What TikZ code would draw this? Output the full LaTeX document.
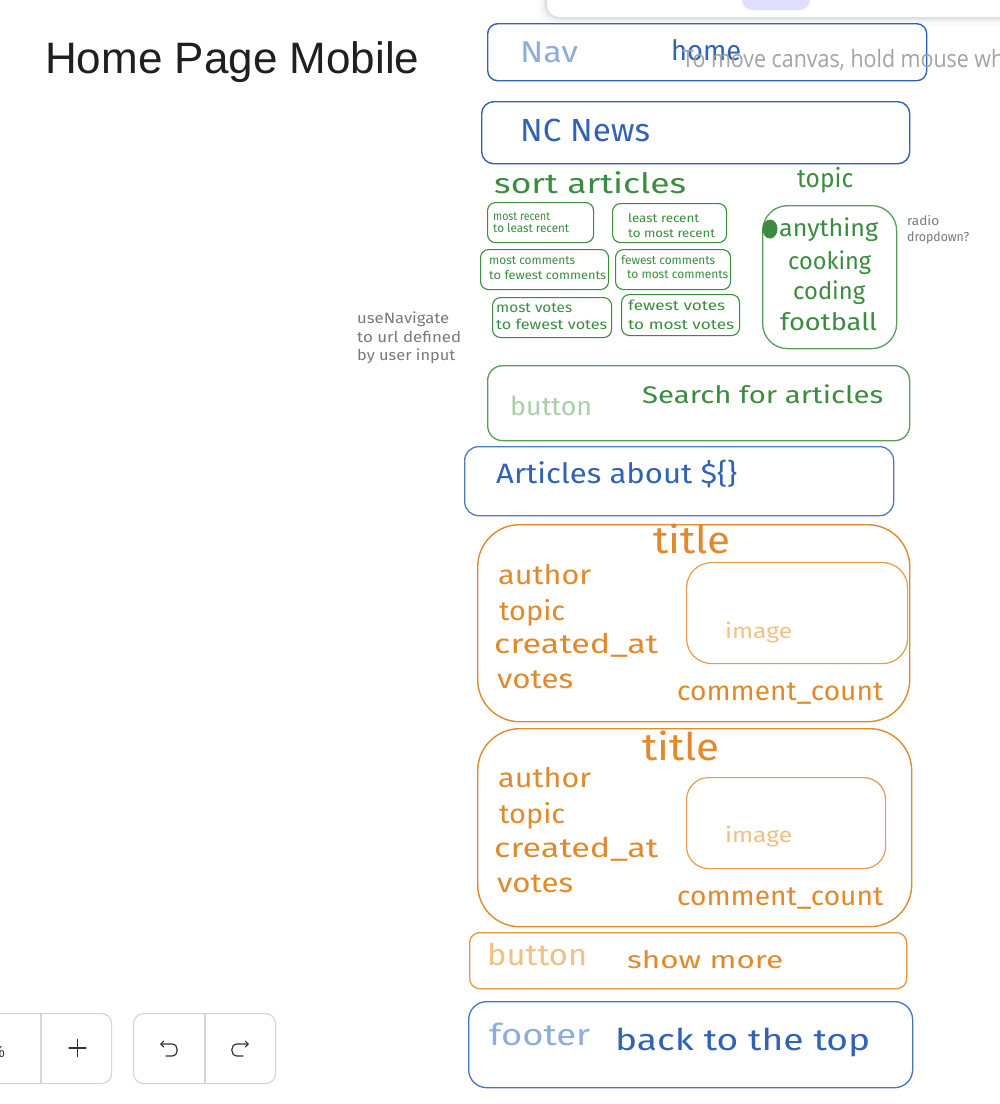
\documentclass[tikz,border=0pt]{standalone}
\usepackage{graphicx}
\usepackage{fontspec}
\setmainfont{Fira Sans}
\newfontfamily\uifont{Liberation Sans}
\newfontfamily\hintfont{Open Sans}
\usetikzlibrary{arrows.meta,shapes.geometric}

\definecolor{inkblue}{HTML}{3163B5}
\definecolor{paleblue}{HTML}{8EADDD}
\definecolor{inkgreen}{HTML}{3B8C3F}
\definecolor{palegreen}{HTML}{A8CFA6}
\definecolor{inkorange}{HTML}{E08A2C}
\definecolor{paleorange}{HTML}{EFC185}
\definecolor{notegray}{HTML}{7A7A7A}
\definecolor{hintgray}{HTML}{A3A3A3}
\definecolor{ctrlgray}{HTML}{D6D6D6}
\definecolor{icongray}{HTML}{333333}
\definecolor{lavender}{HTML}{E0DFFF}

% hand lettering: font size, target width (pt), text
\newcommand{\hw}[3]{\resizebox{#2pt}{\height}{\fontsize{#1}{#1}\selectfont #3}}

\begin{document}
\begin{tikzpicture}[x=1pt,y=-1pt,
  box/.style={draw, rounded corners=#1, line width=1.4pt, anchor=north west, inner sep=0pt},
  box/.default=10pt,
  chip/.style={draw=inkgreen, rounded corners=8pt, line width=1.1pt, anchor=north west, inner sep=0pt},
  txt/.style={anchor=base west, inner sep=0pt},
  ctrlbox/.style={draw=ctrlgray, rounded corners=10pt, line width=1.2pt, anchor=north west, inner sep=0pt},
  icon/.style={draw=icongray, line width=1.2pt, line cap=round, line join=round}]

\clip (0,0) rectangle (1000,1104);
\fill[white] (0,0) rectangle (1000,1104);

% ---- toolbar strip at the top edge
\foreach \s/\o in {8/0.02,5/0.03,3/0.04,1.5/0.05}
  \fill[black, opacity=\o, rounded corners=14pt] (547-\s,-30) rectangle (1040,17+\s);
\fill[white, rounded corners=12pt] (547,-30) rectangle (1040,17);
\fill[lavender, rounded corners=10pt] (742,-15) rectangle (810,10);

% ---- page title
\node[txt, text=black!88] (pagetitle) at (45,73) {\uifont\fontsize{44}{44}\selectfont Home Page Mobile};

% ---- navigation bar and header
\node[box=10pt, draw=inkblue, minimum width=439pt, minimum height=57pt] (navbox) at (487,23) {};
\node[txt, text=paleblue] (navlbl) at (520,62) {\hw{30}{58}{Nav}};
\node[txt, text=inkblue] (homelbl) at (671,60) {\hw{28}{70}{home}};

\node[box=12pt, draw=inkblue, minimum width=428pt, minimum height=62pt] (ncbox) at (481,101) {};
\node[txt, text=inkblue] (nclbl) at (520,141) {\hw{32}{130}{NC News}};

% ---- sorting controls
\node[txt, text=inkgreen] (sortlbl) at (494,193) {\hw{28}{192}{sort articles}};
\node[txt, text=inkgreen] (topiclbl) at (797,187) {\hw{26}{56}{topic}};

\node[chip, minimum width=106pt, minimum height=40pt] (sortA) at (487,202) {};
\node[txt, text=inkgreen] (sortAa) at (493,220) {\hw{12}{57}{most recent}};
\node[txt, text=inkgreen] (sortAb) at (493,232) {\hw{12}{76}{to least recent}};

\node[chip, minimum width=114pt, minimum height=39pt] (sortB) at (612,203) {};
\node[txt, text=inkgreen] (sortBa) at (628,222) {\hw{12}{71}{least recent}};
\node[txt, text=inkgreen] (sortBb) at (628,237) {\hw{12}{87}{to most recent}};

\node[chip, minimum width=128pt, minimum height=40pt] (sortC) at (480,249) {};
\node[txt, text=inkgreen] (sortCa) at (489,264) {\hw{12}{86}{most comments}};
\node[txt, text=inkgreen] (sortCb) at (489,279) {\hw{12}{117}{to fewest comments}};

\node[chip, minimum width=115pt, minimum height=40pt] (sortD) at (615,249) {};
\node[txt, text=inkgreen] (sortDa) at (621,264) {\hw{12}{94}{fewest comments}};
\node[txt, text=inkgreen] (sortDb) at (627,278) {\hw{12}{101}{to most comments}};

\node[chip, minimum width=119pt, minimum height=40pt] (sortE) at (492,297) {};
\node[txt, text=inkgreen] (sortEa) at (496,312) {\hw{14}{76}{most votes}};
\node[txt, text=inkgreen] (sortEb) at (496,329) {\hw{14}{111}{to fewest votes}};

\node[chip, minimum width=118pt, minimum height=41pt] (sortF) at (621,294) {};
\node[txt, text=inkgreen] (sortFa) at (628,310) {\hw{14}{97}{fewest votes}};
\node[txt, text=inkgreen] (sortFb) at (628,329) {\hw{14}{106}{to most votes}};

% ---- topic picker
\node[box=25pt, draw=inkgreen!85, line width=1.3pt, minimum width=134pt, minimum height=143pt] (topicbox) at (762,205) {};
\node[txt, text=inkgreen] (topicA) at (779,236) {\hw{24}{99}{anything}};
\node[txt, text=inkgreen] (topicB) at (788,269) {\hw{24}{83}{cooking}};
\node[txt, text=inkgreen] (topicC) at (793,299) {\hw{24}{72}{coding}};
\node[txt, text=inkgreen] (topicD) at (780,330) {\hw{24}{97}{football}};
\node[ellipse, fill=inkgreen, minimum width=15pt, minimum height=19pt, inner sep=0pt] (radiodot) at (770,229) {};

\node[txt, text=notegray] (noteA) at (907,225) {\hw{13}{32}{radio}};
\node[txt, text=notegray] (noteB) at (907,241) {\hw{13}{62}{dropdown?}};

\node[txt, text=notegray] (navnoteA) at (357,323) {\hw{15}{92}{useNavigate}};
\node[txt, text=notegray] (navnoteB) at (357,342) {\hw{15}{104}{to url defined}};
\node[txt, text=notegray] (navnoteC) at (357,360) {\hw{15}{98}{by user input}};

% ---- search button
\node[box=15pt, draw=inkgreen!85, line width=1.3pt, minimum width=422pt, minimum height=75pt] (searchbox) at (487,365) {};
\node[txt, text=palegreen] (searchbtn) at (510,415) {\hw{26}{82}{button}};
\node[txt, text=inkgreen] (searchlbl) at (642,403) {\hw{24}{241}{Search for articles}};

% ---- results heading
\node[box=14pt, draw=inkblue!85, line width=1.3pt, minimum width=429pt, minimum height=69pt] (aboutbox) at (464,446) {};
\node[txt, text=inkblue] (aboutlbl) at (496,483) {\hw{28}{241}{Articles about \$\{\}}};

% ---- article card 1
\node[box=42pt, draw=inkorange, minimum width=432pt, minimum height=197pt] (cardA) at (477,524) {};
\node[box=25pt, draw=inkorange!85, line width=1.2pt, minimum width=221pt, minimum height=101pt] (imgA) at (686,562) {};
\node[txt, text=inkorange] (titleA) at (653,553) {\hw{38}{77}{title}};
\node[txt, text=inkorange] (authorA) at (498,584) {\hw{27}{93}{author}};
\node[txt, text=inkorange] (topicA2) at (499,620) {\hw{27}{66}{topic}};
\node[txt, text=inkorange] (createdA) at (494,653) {\hw{27}{164}{created\_at}};
\node[txt, text=inkorange] (votesA) at (497,688) {\hw{27}{76}{votes}};
\node[txt, text=inkorange] (countA) at (677,700) {\hw{27}{206}{comment\_count}};
\node[txt, text=paleorange] (imglblA) at (725,638) {\hw{21}{67}{image}};

% ---- article card 2
\node[box=42pt, draw=inkorange, minimum width=434pt, minimum height=198pt] (cardB) at (477,728) {};
\node[box=22pt, draw=inkorange!85, line width=1.2pt, minimum width=199pt, minimum height=91pt] (imgB) at (686,777) {};
\node[txt, text=inkorange] (titleB) at (642,760) {\hw{38}{77}{title}};
\node[txt, text=inkorange] (authorB) at (498,787) {\hw{27}{93}{author}};
\node[txt, text=inkorange] (topicB2) at (499,823) {\hw{27}{66}{topic}};
\node[txt, text=inkorange] (createdB) at (494,857) {\hw{27}{164}{created\_at}};
\node[txt, text=inkorange] (votesB) at (497,892) {\hw{27}{76}{votes}};
\node[txt, text=inkorange] (countB) at (677,905) {\hw{27}{206}{comment\_count}};
\node[txt, text=paleorange] (imglblB) at (725,842) {\hw{21}{67}{image}};

% ---- show more button
\node[box=10pt, draw=inkorange!90, line width=1.3pt, minimum width=437pt, minimum height=56pt] (morebox) at (469,932) {};
\node[txt, text=paleorange] (morebtn) at (487,965) {\hw{30}{100}{button}};
\node[txt, text=inkorange] (morelbl) at (627,968) {\hw{24}{156}{show more}};

% ---- footer
\node[box=18pt, draw=inkblue!90, line width=1.3pt, minimum width=444pt, minimum height=86pt] (footbox) at (468,1001) {};
\node[txt, text=paleblue] (footlbl) at (489,1045) {\hw{30}{101}{footer}};
\node[txt, text=inkblue] (toplbl) at (615,1050) {\hw{30}{255}{back to the top}};

% ---- canvas hint overlay
\node[txt, text=hintgray] (hint) at (682,67) {\hintfont\resizebox{322pt}{\height}{\fontsize{24}{24}\selectfont To move canvas, hold mouse wh}};

% ---- zoom and history controls
\node[ctrlbox, minimum width=131pt, minimum height=70pt] (zoomctl) at (-20,1013) {};
\draw[ctrlgray, line width=1.2pt] (41,1013) -- (41,1083);
\node[anchor=base east, inner sep=0pt, text=icongray] (zoomlvl) at (5,1057) {\uifont\fontsize{16}{16}\selectfont 100\%};
\draw[icon] (69,1048) -- (86,1048) (77.5,1039.5) -- (77.5,1056.5);

\node[ctrlbox, minimum width=142pt, minimum height=70pt] (histctl) at (133,1013) {};
\draw[ctrlgray, line width=1.2pt] (205,1013) -- (205,1083);
\draw[icon, -{Straight Barb[length=3pt,width=6pt]}] (166,1056) -- (172,1056) .. controls (179,1056) and (179,1044) .. (172,1044) -- (160,1044);
\draw[icon, -{Straight Barb[length=3pt,width=6pt]}] (243,1056) -- (237,1056) .. controls (230,1056) and (230,1044) .. (237,1044) -- (249,1044);

\end{tikzpicture}
\end{document}
